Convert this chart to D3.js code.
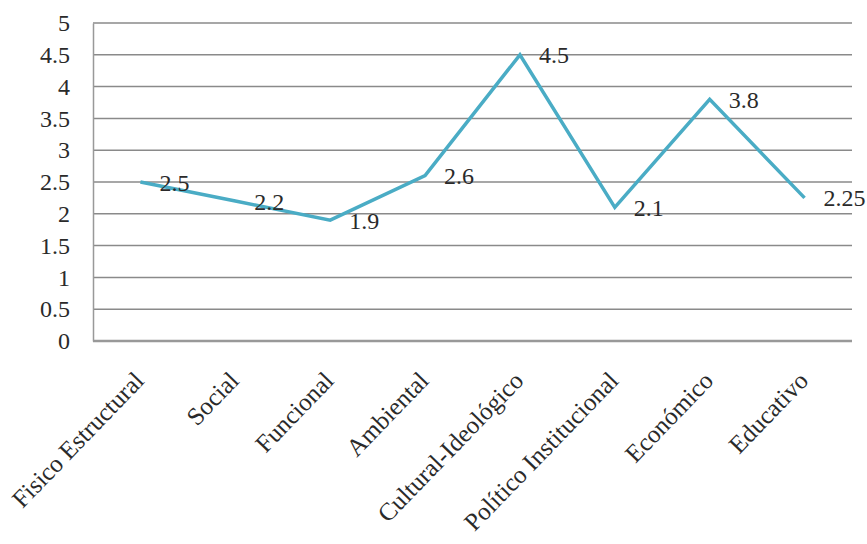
<!DOCTYPE html>
<html>
<head>
<meta charset="utf-8">
<script src="https://cdn.jsdelivr.net/npm/d3@7"></script>
<style>
  body { margin: 0; background: #fff; }
  #chart { width: 867px; height: 544px; }
  text { font-family: "Liberation Serif", "DejaVu Serif", serif; fill: #2a2a2a; }
</style>
</head>
<body>
<div id="chart"></div>
<script>
// data
const categories = ["Fisico Estructural", "Social", "Funcional", "Ambiental",
    "Cultural-Ideológico", "Político Institucional", "Económico", "Educativo"];
const values = [2.5, 2.2, 1.9, 2.6, 4.5, 2.1, 3.8, 2.25];
const yTicks = [0, 0.5, 1, 1.5, 2, 2.5, 3, 3.5, 4, 4.5, 5];

const width = 867, height = 544;
const margin = { top: 23, left: 93, right: 15, bottom: 203 };
const fontSize = 24;

const svg = d3.select("#chart")
    .append("svg")
    .attr("width", width)
    .attr("height", height);

// scales
const xScale = d3.scaleBand()
    .domain(categories)
    .range([margin.left, width - margin.right]);
const yScale = d3.scaleLinear()
    .domain([0, 5])
    .range([height - margin.bottom, margin.top]);

// gridlines
svg.append("g")
    .selectAll("line")
    .data(yTicks)
    .enter()
    .append("line")
        .attr("x1", margin.left)
        .attr("x2", width - margin.right)
        .attr("y1", d => yScale(d))
        .attr("y2", d => yScale(d))
        .attr("stroke", d => d === 0 ? "#999" : "#8a8a8a")
        .attr("stroke-width", d => d === 0 ? 2.5 : 1.5);

// y axis
const yAxis = svg.append("g")
    .attr("transform", `translate(${margin.left},0)`)
    .call(d3.axisLeft(yScale).tickValues(yTicks).tickSize(0).tickPadding(23)
        .tickFormat(d => String(d)));
yAxis.select(".domain").attr("stroke", "#999").attr("stroke-width", 1.5);
yAxis.selectAll("text")
    .attr("font-size", fontSize);

// x axis labels
const xAxis = svg.append("g")
    .attr("transform", `translate(0,${height - margin.bottom})`)
    .call(d3.axisBottom(xScale).tickSize(0).tickPadding(0));
xAxis.select(".domain").remove();
xAxis.selectAll("text")
    .attr("font-size", 25)
    .attr("text-anchor", "end")
    .attr("dy", null)
    .attr("y", 0)
    .attr("transform", "translate(5,41) rotate(-46)");

// line
const line = d3.line()
    .x((d, i) => xScale(categories[i]) + xScale.bandwidth() / 2)
    .y(d => yScale(d));
svg.append("path")
    .datum(values)
    .attr("fill", "none")
    .attr("stroke", "#4aacc5")
    .attr("stroke-width", 3.5)
    .attr("stroke-linejoin", "miter")
    .attr("d", line);

// data labels
svg.append("g")
    .selectAll("text")
    .data(values)
    .enter()
    .append("text")
        .attr("x", (d, i) => xScale(categories[i]) + xScale.bandwidth() / 2 + 19)
        .attr("y", d => yScale(d) + 3)
        .attr("dominant-baseline", "middle")
        .attr("font-size", fontSize)
        .text(d => d);
</script>
</body>
</html>
